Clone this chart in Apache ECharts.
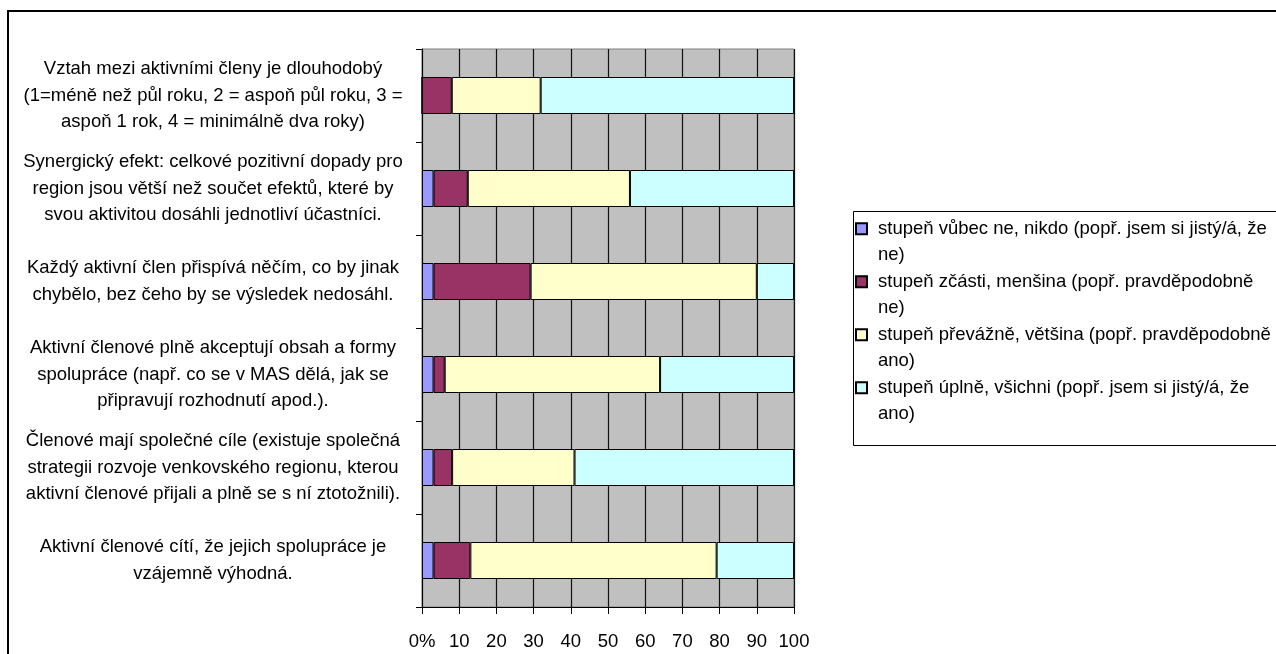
<!DOCTYPE html>
<html>
<head>
<meta charset="utf-8">
<script src="https://cdn.jsdelivr.net/npm/echarts@6/dist/echarts.min.js"></script>
<style>
  html, body { margin: 0; padding: 0; background: #fff; }
  #main { width: 1276px; height: 654px; }
</style>
</head>
<body>
<div id="main"></div>
<script>
// otázky, shora dolů
var categories = [
    'Vztah mezi aktivními členy je dlouhodobý\n(1=méně než půl roku, 2 = aspoň půl roku, 3 =\naspoň 1 rok, 4 = minimálně dva roky)',
    'Synergický efekt: celkové pozitivní dopady pro\nregion jsou větší než součet efektů, které by\nsvou aktivitou dosáhli jednotliví účastníci.',
    'Každý aktivní člen přispívá něčím, co by jinak\nchybělo, bez čeho by se výsledek nedosáhl.',
    'Aktivní členové plně akceptují obsah a formy\nspolupráce (např. co se v MAS dělá, jak se\npřipravují rozhodnutí apod.).',
    'Členové mají společné cíle (existuje společná\nstrategii rozvoje venkovského regionu, kterou\naktivní členové přijali a plně se s ní ztotožnili).',
    'Aktivní členové cítí, že jejich spolupráce je\nvzájemně výhodná.'
];

var seriesNames = [
    'stupeň vůbec ne, nikdo (popř. jsem si jistý/á, že\nne)',
    'stupeň zčásti, menšina (popř. pravděpodobně\nne)',
    'stupeň převážně, většina (popř. pravděpodobně\nano)',
    'stupeň úplně, všichni (popř. jsem si jistý/á, že\nano)'
];

// podíly v %
var vubecNe   = [0,    3.1,  3.1,  3.1,  3.1,  3.1];
var zcasti    = [8.0,  9.2,  26.1, 3.0,  5.0,  9.9];
var prevazne  = [23.9, 43.6, 60.8, 57.9, 32.9, 66.2];
var uplne     = [68.1, 44.1, 10.0, 36.0, 59.0, 20.8];

var xTickLabels = ['0%', '10', '20', '30', '40', '50', '60', '70', '80', '90', '100'];

var colors = ['#9999FF', '#993366', '#FFFFCC', '#CCFFFF'];
var FONT = "'Liberation Sans', Arial, sans-serif";
var FS = 18.5;
var LH = 26.5;

var chart = echarts.init(document.getElementById('main'));

function barSeries(i, values) {
    return {
        name: seriesNames[i],
        type: 'bar',
        stack: 'celkem',
        barWidth: 37,
        data: values,
        itemStyle: { color: colors[i], borderColor: '#000', borderWidth: 1 },
        emphasis: { disabled: true }
    };
}

var option = {
    animation: false,
    textStyle: { fontFamily: FONT },
    grid: {
        left: 422, top: 49, width: 372, height: 558,
        show: true, backgroundColor: '#C0C0C0',
        borderColor: '#808080', borderWidth: 1
    },
    legend: {
        orient: 'vertical',
        left: 855, top: 189,
        padding: 0,
        itemGap: -LH,
        itemWidth: 11, itemHeight: 11,
        icon: 'rect',
        data: seriesNames,
        // prázdný řádek nahoře, aby byl čtvereček u prvního řádku textu
        formatter: function (name) { return '\n' + name; },
        textStyle: {
            fontFamily: FONT, fontSize: FS, color: '#000', lineHeight: LH,
            padding: [0, 0, 0, 6]
        }
    },
    xAxis: {
        type: 'value',
        min: 0, max: 100, interval: 10,
        axisLine: { show: true, lineStyle: { color: '#000', width: 1 } },
        axisTick: { show: true, length: 7, lineStyle: { color: '#000' } },
        splitLine: { show: true, lineStyle: { color: '#111', width: 1.2 } },
        axisLabel: {
            margin: 25, color: '#000', fontSize: FS, fontFamily: FONT,
            formatter: function (v) { return xTickLabels[Math.round(v / 10)]; }
        }
    },
    yAxis: {
        type: 'category',
        inverse: true,
        data: categories,
        axisLine: { show: true, lineStyle: { color: '#000', width: 1 } },
        axisTick: { show: true, length: 6, lineStyle: { color: '#000' } },
        axisLabel: {
            align: 'center', margin: 209, color: '#000',
            fontSize: FS, lineHeight: LH, fontFamily: FONT,
            padding: [3, 0, 0, 0]
        }
    },
    graphic: [
        {
            type: 'rect', silent: true,
            shape: { x: 8, y: 11, width: 1300, height: 700 },
            style: { fill: 'none', stroke: '#000', lineWidth: 2 }
        },
        {
            type: 'rect', silent: true, z: -1,
            shape: { x: 853.5, y: 211.5, width: 440, height: 234 },
            style: { fill: '#fff', stroke: '#000', lineWidth: 1 }
        }
    ],
    series: [
        barSeries(0, vubecNe),
        barSeries(1, zcasti),
        barSeries(2, prevazne),
        barSeries(3, uplne)
    ]
};

chart.setOption(option);
</script>
</body>
</html>
